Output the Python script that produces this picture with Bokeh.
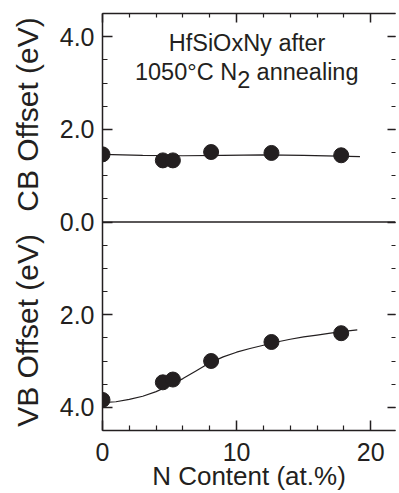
import math
from bokeh.plotting import figure
from bokeh.layouts import row
from bokeh.models import Range1d, LinearAxis, FixedTicker, Label, Span, CustomLabelingPolicy
from bokeh.core.properties import value
from bokeh.embed import file_html
from bokeh.resources import INLINE

# ---- data ----
n_content = [0.0, 4.5, 5.25, 8.1, 12.6, 17.8]
cb_offset = [1.46, 1.33, 1.33, 1.51, 1.49, 1.44]
vb_offset = [3.84, 3.46, 3.40, 3.00, 2.59, 2.40]

cb_fit_n = [0, 3, 6, 9, 12, 15, 19.2]
cb_fit = [1.46, 1.44, 1.43, 1.44, 1.45, 1.44, 1.41]

vb_fit_n = [0, 1, 2, 3, 4, 5, 6, 7, 8, 9, 10, 11, 12, 13, 14, 15, 16, 17, 18, 19]
vb_fit = [3.90, 3.88, 3.83, 3.76, 3.66, 3.53, 3.38, 3.21, 3.04, 2.91, 2.81,
          2.73, 2.66, 2.59, 2.53, 2.48, 2.44, 2.40, 2.36, 2.33]

x_ticks = [0, 10, 20]
x_minor = [2, 4, 6, 8, 12, 14, 16, 18]
y_ticks = [-4, -2, 0, 2, 4]
y_tick_labels = {-4: "4.0", -2: "2.0", 0: "0.0", 2: "2.0", 4: "4.0"}
y_minor = [-4.5, -4.0, -3.5, -3.0, -2.5, -2.0, -1.5, -1.0, -0.5, 0.0,
           0.5, 1.0, 1.5, 2.0, 2.5, 3.0, 3.5, 4.0, 4.5]

cb_title = "CB Offset (eV)"
vb_title = "VB Offset (eV)"
x_title = "N Content (at.%)"

ink = "#231f20"
FONT = "Liberation Sans"


def style_ticks(ax, major_in, minor_in, line=True):
    ax.major_tick_in = major_in
    ax.major_tick_out = 0
    ax.minor_tick_in = minor_in
    ax.minor_tick_out = 0
    ax.axis_line_color = ink if line else None
    ax.axis_line_width = 1.5
    ax.major_tick_line_color = ink
    ax.minor_tick_line_color = ink
    ax.major_tick_line_width = 1.5
    ax.minor_tick_line_width = 1.2


# ---------------- main plot ----------------
p = figure(width=349, height=493,
           x_range=Range1d(0, 21.85), y_range=Range1d(-4.5, 4.5),
           output_backend="svg", toolbar_location=None,
           min_border_left=52, min_border_right=0,
           min_border_top=13, min_border_bottom=63)
p.extra_y_ranges = {"vb": Range1d(start=4.5, end=-4.5)}
p.xgrid.visible = False
p.ygrid.visible = False
p.outline_line_color = None

xa = p.xaxis[0]
xa.ticker = FixedTicker(ticks=x_ticks, minor_ticks=x_minor)
xa.axis_label = x_title
xa.axis_label_text_font = FONT
xa.axis_label_text_font_style = "normal"
xa.axis_label_text_font_size = "26px"
xa.axis_label_text_color = ink
xa.axis_label_standoff = -3
xa.major_label_text_font = FONT
xa.major_label_text_font_size = "25px"
xa.major_label_text_color = ink
xa.major_label_standoff = 12
style_ticks(xa, 10, 5)

ya = p.yaxis[0]
ya.ticker = FixedTicker(ticks=y_ticks, minor_ticks=y_minor)
ya.major_label_overrides = y_tick_labels
ya.major_label_text_font = FONT
ya.major_label_text_font_size = "25px"
ya.major_label_text_color = ink
ya.major_label_standoff = 8
style_ticks(ya, 10, 5)

no_labels = CustomLabelingPolicy(code="return []")

ra = LinearAxis(ticker=FixedTicker(ticks=y_ticks, minor_ticks=y_minor),
                major_label_policy=no_labels, major_label_text_font_size="1px",
                major_label_standoff=0)
style_ticks(ra, 8, 4, line=False)
p.add_layout(ra, "right")

ta = LinearAxis(ticker=FixedTicker(ticks=x_ticks, minor_ticks=x_minor),
                major_label_policy=no_labels, major_label_text_font_size="1px",
                major_label_standoff=0)
style_ticks(ta, 9, 4)
p.add_layout(ta, "above")

# divider between CB and VB panels
p.add_layout(Span(location=0, dimension="width", line_color=ink, line_width=1.5))

# fit curves
p.line(cb_fit_n, cb_fit, line_color=ink, line_width=1.2)
p.line(vb_fit_n, vb_fit, line_color=ink, line_width=1.2, y_range_name="vb")

# data points
p.scatter(n_content, cb_offset, size=15, color=ink)
p.scatter(n_content, vb_offset, size=15, color=ink, y_range_name="vb")

# annotation
ann_size = "23.5px"
p.add_layout(Label(x=10.78, y=3.874, text="HfSiOxNy after", text_align="center",
                   text_baseline="middle", text_font=FONT,
                   text_font_size=ann_size, text_color=ink))
p.add_layout(Label(x=10.04, y=3.227, text="1050°C N", text_align="right",
                   text_baseline="middle", text_font=FONT,
                   text_font_size=ann_size, text_color=ink))
p.add_layout(Label(x=10.04, y=3.082, text="2", text_align="left",
                   text_baseline="middle", text_font=FONT,
                   text_font_size=ann_size, text_color=ink))
p.add_layout(Label(x=11.49, y=3.227, text="annealing", text_align="left",
                   text_baseline="middle", text_font=FONT,
                   text_font_size=ann_size, text_color=ink))

# ---------------- strip holding the two panel titles ----------------
t = figure(width=50, height=493, x_range=Range1d(0, 50),
           y_range=Range1d(-4.5, 4.5),
           output_backend="svg", toolbar_location=None,
           x_axis_location=None, y_axis_location=None,
           min_border_left=0, min_border_right=0,
           min_border_top=13, min_border_bottom=63)
t.extra_y_ranges = {"vb": Range1d(start=4.5, end=-4.5)}
t.xgrid.visible = False
t.ygrid.visible = False
t.outline_line_color = None
t.text(x=[26.5], y=[2.32], text=[cb_title], angle=math.pi / 2,
       text_align="center", text_baseline="middle",
       text_font=value(FONT), text_font_size="30px", text_color=ink)
t.text(x=[26.5], y=[2.34], text=[vb_title], angle=math.pi / 2,
       text_align="center", text_baseline="middle", y_range_name="vb",
       text_font=value(FONT), text_font_size="30px", text_color=ink)

layout = row(t, p, spacing=0)
open("out.html", "w").write(file_html(layout, INLINE))
